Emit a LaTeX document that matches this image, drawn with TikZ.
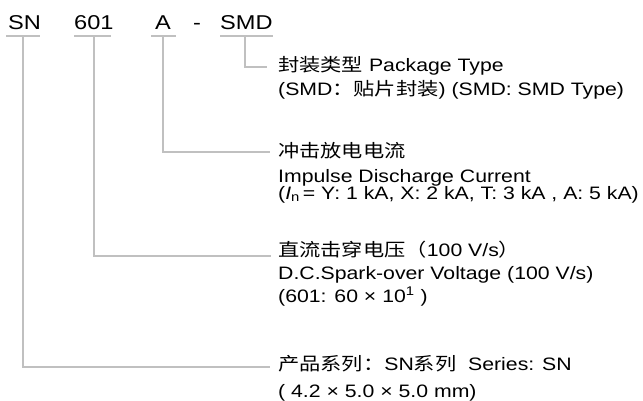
\documentclass[tikz,border=0pt]{standalone}
\usepackage{fontspec}
\setmainfont{Liberation Sans}[FakeStretch=1.18]
\newfontfamily\cjk{Noto Sans CJK SC}[FakeStretch=1.18]
\definecolor{lg}{RGB}{192,192,192}
\begin{document}
\begin{tikzpicture}[x=1pt,y=-1pt,
  hd/.style={anchor=base west,inner sep=0pt,font=\fontsize{20}{24}\selectfont},
  tx/.style={anchor=base west,inner sep=0pt,font=\fontsize{18}{20}\selectfont},
  ln/.style={draw=lg,line width=1.9pt}]
\useasboundingbox (0,0) rectangle (643,400);
% header
\node[hd] (sn) at (8,29) {SN};
\node[hd] (v601) at (74,29) {601};
\node[hd] (a) at (155,29) {A};
\node[hd] (dash) at (193,29) {-};
\node[hd] (smd) at (220,29) {SMD};
% underline end points
\coordinate (snL) at (6,36);   \coordinate (snR) at (40,36);
\coordinate (vL) at (74,36);   \coordinate (vR) at (111,36);
\coordinate (aL) at (151,36);  \coordinate (aR) at (176,36);
\coordinate (sL) at (220,36);  \coordinate (sR) at (273,36);
\coordinate (snT) at (23,36);  \coordinate (vT) at (94,36);
\coordinate (aT) at (163,36);  \coordinate (sT) at (245,36);
\coordinate (e1) at (267,67);
\coordinate (e2) at (270,152);
\coordinate (e3) at (271,256);
\coordinate (e4) at (270,367);
\draw[ln] (snL) -- (snR);
\draw[ln] (vL) -- (vR);
\draw[ln] (aL) -- (aR);
\draw[ln] (sL) -- (sR);
\draw[ln] (sT) |- (e1);
\draw[ln] (aT) |- (e2);
\draw[ln] (vT) |- (e3);
\draw[ln] (snT) |- (e4);
% texts
\node[tx] (t1a) at (278,71) {{\cjk 封装类型} Package Type};
\node[tx] (t1b) at (278,95) {(SMD{\cjk ：贴片封装}) (SMD: SMD Type)};
\node[tx] (t2a) at (278,157) {\cjk 冲击放电电流};
\node[tx] (t2b) at (278,182) {Impulse Discharge Current};
\node[tx] (t2c) at (278,199) {({\itshape I}\textsubscript{n}\,= Y: 1 kA, X: 2 kA, T: 3 kA , A: 5 kA)};
\node[tx] (t3a) at (278,256) {{\cjk 直流击穿电压（}100 V/s{\cjk ）}};
\node[tx] (t3b) at (278,279) {D.C.Spark-over Voltage (100 V/s)};
\node[tx] (t3c) at (278,302) {(601: 60 × 10\textsuperscript{1} )};
\node[tx] (t4a) at (278,370) {{\cjk 产品系列：}SN{\cjk 系列}\ \ Series: SN};
\node[tx] (t4b) at (278,397) {( 4.2 × 5.0 × 5.0 mm)};
\end{tikzpicture}
\end{document}
